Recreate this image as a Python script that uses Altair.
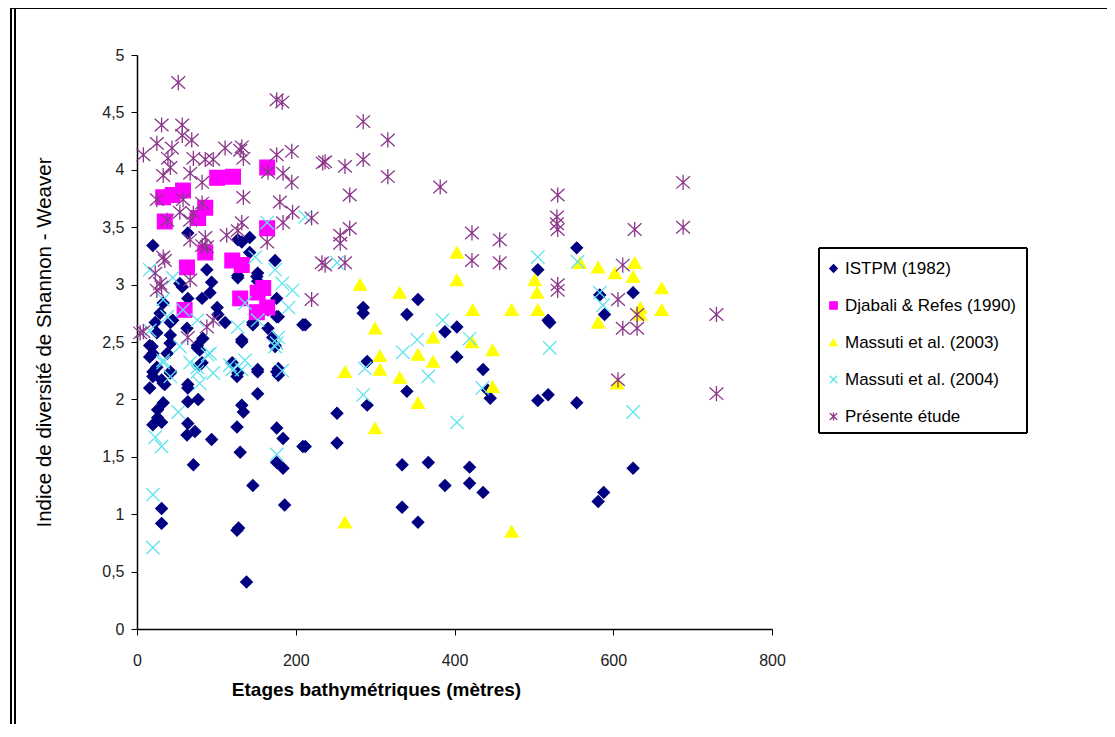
import altair as alt
import pandas as pd

series_names = ["ISTPM (1982)", "Djabali & Refes (1990)", "Massuti et al. (2003)",
                "Massuti et al. (2004)", "Présente étude"]

istpm_x = [19, 42, 76, 132, 174, 20, 20, 31, 35, 16, 42, 64, 152, 176, 178, 126, 79, 152, 64, 77,
           33, 26, 26, 20, 31, 132, 134, 64, 73, 63, 126, 176, 184, 209, 94, 130, 71, 176, 184, 146,
           186, 31, 31, 126, 128, 138,
           64, 20, 132, 142, 174, 88, 94, 57, 151, 152, 92, 64, 33, 127, 176, 176, 209, 101, 111, 146,
           165, 132, 16, 42, 20, 79, 42, 25, 54, 82, 29, 102, 23, 45, 63, 42, 83, 76, 38, 16, 82, 25,
           42, 33, 64, 127, 142, 152, 127, 165, 178, 146, 171, 174, 120, 127, 152, 178,
           354, 285, 285, 340, 212, 388, 403, 505, 518, 290, 403, 436, 445, 442, 340, 252, 290, 212,
           252, 334, 367, 419, 388, 419, 436, 334, 354, 505, 518, 554, 583, 625, 589, 520, 554, 625,
           581, 588]
istpm_y = [2.46, 2.49, 2.47, 2.50, 2.47, 2.24, 2.20, 2.17, 2.13, 2.10, 2.24, 2.10, 2.24, 2.24, 2.21,
           2.20, 2.30, 2.05, 1.98, 2.00, 1.97, 1.91, 1.84, 1.78, 1.80, 1.95, 1.89, 1.79, 1.72, 1.69,
           1.76, 1.75, 1.66, 1.59, 1.65, 1.54, 1.43, 1.45, 1.40, 1.25, 1.08, 1.05, 0.92, 0.86, 0.88,
           0.41,
           3.45, 3.34, 3.37, 3.41, 3.21, 3.13, 3.02, 2.98, 3.07, 3.03, 2.93, 2.88, 2.84, 3.08, 2.88,
           2.72, 2.65, 2.80, 2.67, 2.65, 2.62, 2.52, 2.47, 2.49, 2.40, 2.43, 2.67, 2.58, 3.01, 2.88,
           2.75, 2.74, 2.67, 2.69, 2.62, 2.56, 2.53, 2.45, 2.40, 2.37, 2.32, 2.28, 2.23, 2.14, 2.13,
           3.39, 3.28, 3.10, 3.06, 2.78, 2.72, 2.67, 2.54, 2.46, 2.32, 2.23, 2.26, 2.27,
           2.87, 2.80, 2.75, 2.74, 2.65, 2.59, 2.63, 3.13, 2.69, 2.33, 2.37, 2.26, 2.01, 2.08, 2.07,
           1.88, 1.95, 1.59, 1.62, 1.43, 1.45, 1.41, 1.25, 1.27, 1.19, 1.06, 0.93, 1.99, 2.04, 3.32,
           2.91, 2.93, 2.74, 2.67, 1.97, 1.40, 1.11, 1.19]

djabali_x = [45, 58, 33, 101, 121, 164, 86, 77, 35, 164, 86, 63, 120, 132, 159, 152, 130, 164, 151, 60]
djabali_y = [3.78, 3.82, 3.76, 3.93, 3.94, 4.02, 3.67, 3.58, 3.55, 3.49, 3.28, 3.15, 3.21, 3.17,
             2.97, 2.93, 2.88, 2.80, 2.76, 2.78]

massuti03_x = [403, 403, 281, 331, 423, 472, 505, 501, 504, 300, 373, 422, 448, 354, 306, 262, 306,
               331, 373, 448, 354, 300, 262, 472, 558, 581, 602, 627, 625, 661, 661, 634, 634, 581,
               605]
massuti03_y = [3.28, 3.04, 3.00, 2.93, 2.78, 2.78, 2.78, 3.04, 2.93, 2.62, 2.54, 2.50, 2.43, 2.39,
               2.38, 2.24, 2.26, 2.19, 2.33, 2.11, 1.97, 1.75, 0.93, 0.85, 3.19, 3.15, 3.10, 3.19,
               3.07, 2.97, 2.78, 2.80, 2.74, 2.67, 2.14]

massuti04_x = [20, 20, 31, 23, 52, 176, 76, 67, 89, 117, 132, 176, 33, 212, 252, 385, 419, 353, 335,
               367, 285, 435, 403, 287, 505, 555, 583, 587, 520, 625, 16, 45, 33, 58, 38, 76, 16, 54,
               92, 33, 76, 42, 96, 79, 149, 174, 183, 136, 152, 127, 178, 174, 136, 120, 164, 196,
               191, 183]
massuti04_y = [0.71, 1.17, 1.59, 1.67, 1.89, 1.52, 2.24, 2.32, 2.39, 2.30, 2.26, 2.49, 2.34, 3.59,
               3.19, 2.69, 2.53, 2.52, 2.41, 2.20, 2.04, 2.10, 1.80, 2.27, 3.24, 3.20, 2.93, 2.82,
               2.45, 1.89, 3.13, 3.06, 2.87, 2.78, 2.72, 2.69, 2.60, 2.46, 2.40, 2.32, 2.28, 2.20,
               2.23, 2.14, 3.24, 3.13, 3.01, 2.84, 2.69, 2.63, 2.54, 2.46, 2.34, 2.26, 3.54, 2.95,
               2.80, 2.25]

presente_x = [52, 31, 57, 57, 25, 69, 8, 44, 39, 71, 86, 96, 111, 42, 67, 33, 82, 25, 58, 82, 54, 71,
              67, 38, 176, 183, 132, 134, 176, 195, 165, 184, 195, 234, 134, 180, 196, 220, 184, 132,
              113, 127, 164, 237, 220, 82, 33, 35, 23, 25, 31, 8, 67, 86, 285, 316, 237, 262, 285,
              316, 382, 268, 268, 256, 256, 422, 457, 422, 457, 262, 688, 530, 529, 530, 529, 627,
              688, 530, 530, 612, 606, 630, 612, 630, 730, 606, 730, 4, 67, 88, 29, 88, 64, 96, 233,
              130]
presente_y = [4.76, 4.39, 4.39, 4.30, 4.23, 4.26, 4.13, 4.19, 4.10, 4.10, 4.09, 4.09, 4.19, 4.02,
              3.97, 3.95, 3.89, 3.74, 3.74, 3.71, 3.63, 3.62, 3.56, 3.56, 4.61, 4.59, 4.20, 4.10,
              4.13, 4.16, 3.98, 3.97, 3.89, 4.06, 3.76, 3.72, 3.63, 3.58, 3.54, 3.54, 3.43, 3.47,
              3.37, 3.17, 2.87, 3.34, 3.24, 3.21, 3.10, 2.95, 2.98, 2.59, 3.04, 3.41, 4.42, 4.26,
              4.07, 4.03, 4.09, 3.94, 3.85, 3.78, 3.49, 3.43, 3.36, 3.45, 3.39, 3.21, 3.19, 3.19,
              3.89, 3.78, 3.59, 3.48, 3.53, 3.48, 3.50, 3.00, 2.95, 3.17, 2.87, 2.74, 2.62, 2.62,
              2.74, 2.17, 2.05, 2.58, 3.39, 3.33, 3.01, 2.63, 2.54, 2.69, 3.19, 4.17]

x_ticks = [0, 200, 400, 600, 800]
y_ticks = [0, 0.5, 1, 1.5, 2, 2.5, 3, 3.5, 4, 4.5, 5]

fills = ["#000080", "#FF00FF", "#FFFF00", "#00FFFF", "#800080"]
strokes = ["#000080", "#FF00FF", "#FFFF00", "#5FE3EE", "#8A378A"]
shapes = ["diamond", "square", "triangle-up",
          "M-1,-1L1,1M1,-1L-1,1",
          "M-1,-0.9L1,0.9M1,-0.9L-1,0.9M0,-1.1L0,1.1"]
sizes = [135, 215, 165, 180, 190]

rows = []
for name, xs, ys in zip(series_names,
                        [istpm_x, djabali_x, massuti03_x, massuti04_x, presente_x],
                        [istpm_y, djabali_y, massuti03_y, massuti04_y, presente_y]):
    for xv, yv in zip(xs, ys):
        rows.append({"series": name, "depth": xv, "H": yv})
df = pd.DataFrame(rows)

W, H = 635, 574
FONT = "Liberation Sans"

legend = alt.Legend(title=None, orient="none", legendX=688, legendY=205,
                    labelFont=FONT, labelFontSize=17, labelColor="black", labelLimit=400,
                    symbolSize=55, symbolStrokeWidth=1.3, rowPadding=19,
                    labelOffset=3)

x_enc = alt.X("depth:Q", scale=alt.Scale(domain=[0, 800], nice=False),
              axis=alt.Axis(values=x_ticks, title="Etages bathymétriques (mètres)",
                            titleFontWeight="bold", titleFontSize=19, titlePadding=12,
                            titleX=239, titleAnchor="start", titleAlign="center",
                            labelPadding=17, labelFlush=False))
y_enc = alt.Y("H:Q", scale=alt.Scale(domain=[0, 5], nice=False),
              axis=alt.Axis(values=y_ticks, title="Indice de diversité de Shannon - Weaver",
                            titleFontWeight="normal", titleFontSize=20.5, titlePadding=47,
                            labelPadding=7, labelFlush=False,
                            labelExpr="replace(toString(datum.value), '.', ',')"))

layers = []
for name, s in zip(series_names, sizes):
    layers.append(
        alt.Chart(df).transform_filter(alt.datum.series == name)
        .mark_point(filled=False, strokeWidth=1.3, opacity=1, size=s)
        .encode(
            x=x_enc, y=y_enc,
            shape=alt.Shape("series:N", scale=alt.Scale(domain=series_names, range=shapes),
                            legend=legend),
            fill=alt.Fill("series:N", scale=alt.Scale(domain=series_names, range=fills),
                          legend=legend),
            stroke=alt.Stroke("series:N", scale=alt.Scale(domain=series_names, range=strokes),
                              legend=legend),
        )
    )

legend_box = alt.Chart(df).mark_rect(filled=False, stroke="black", strokeWidth=1).encode(
    x=alt.value(682), x2=alt.value(890), y=alt.value(193), y2=alt.value(378))

frame = alt.Chart(df).mark_rect(filled=False, stroke="black", strokeWidth=1).encode(
    x=alt.value(-126), x2=alt.value(990), y=alt.value(-47), y2=alt.value(700))
frame_inner = alt.Chart(df).mark_rule(stroke="black", strokeWidth=1).encode(
    x=alt.value(-122), y=alt.value(-47), y2=alt.value(700))

chart = alt.layer(frame, frame_inner, legend_box, *layers).properties(
    width=W, height=H,
    autosize=alt.AutoSizeParams(type="none"),
    padding={"left": 129, "top": 47, "right": 335, "bottom": 95},
    background="white",
).configure_view(stroke=None).configure_axis(
    grid=False, domainColor="black", domainWidth=1.5, tickColor="black", tickSize=6,
    labelFont=FONT, labelFontSize=16, labelColor="#222222",
    titleFont=FONT, titleColor="black",
)

chart.save("out.html", embed_options={"renderer": "svg", "actions": False})
